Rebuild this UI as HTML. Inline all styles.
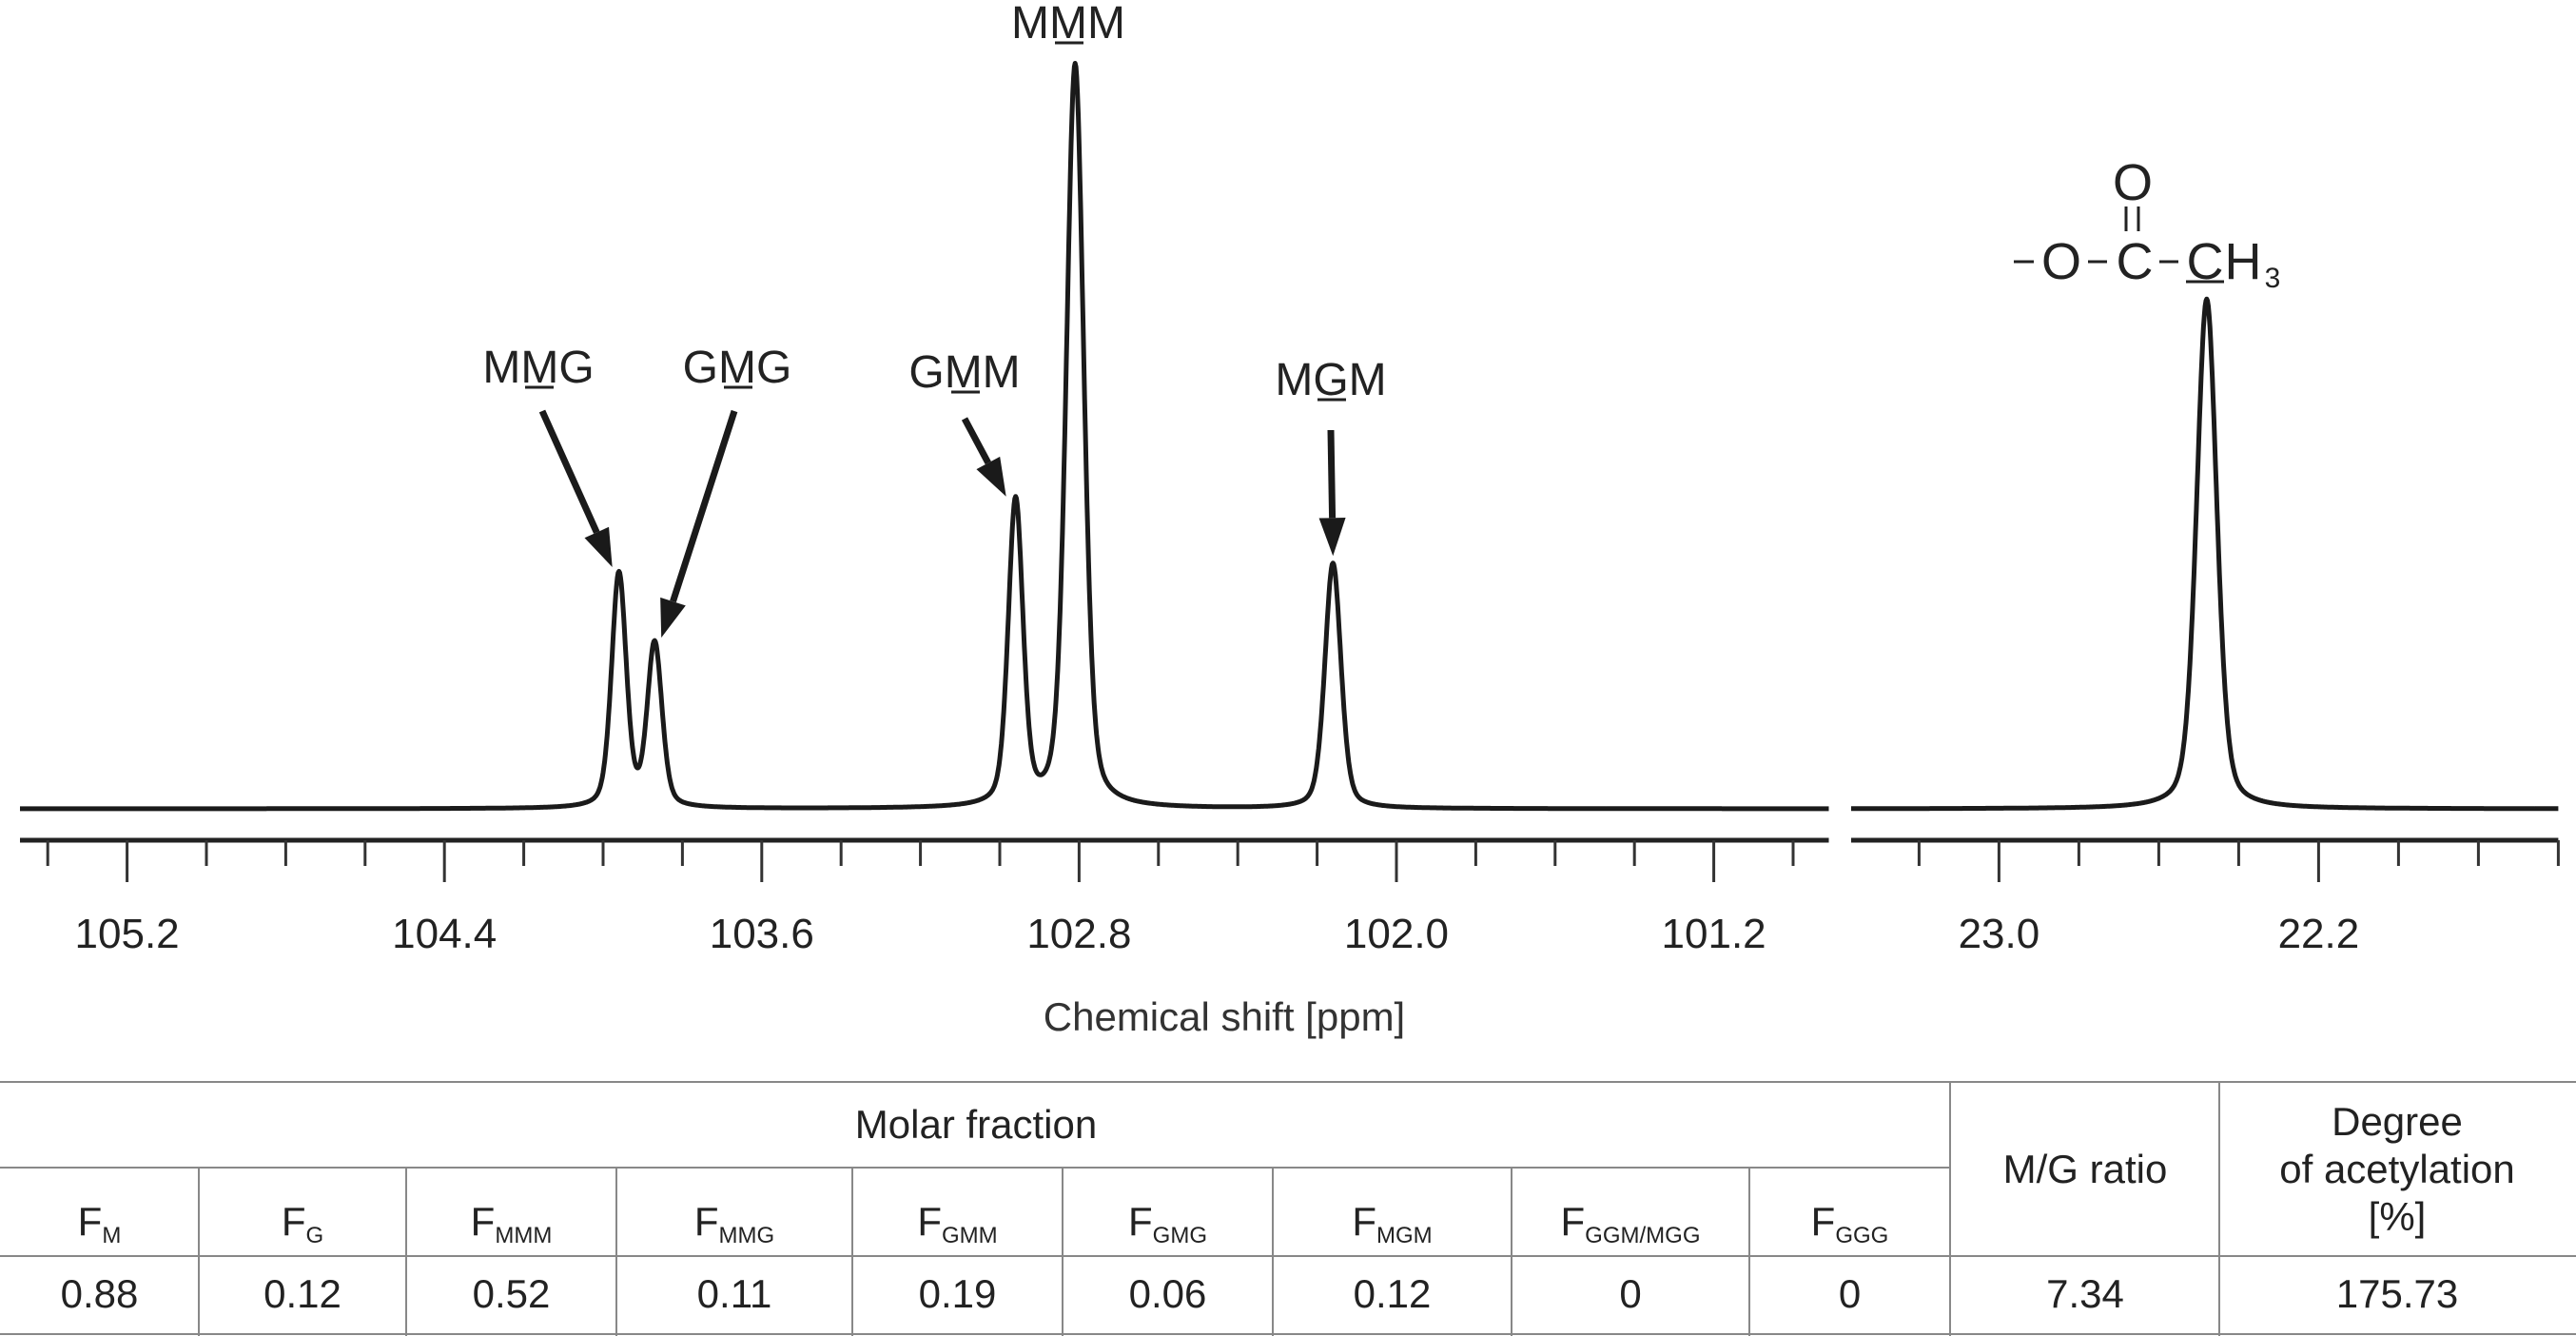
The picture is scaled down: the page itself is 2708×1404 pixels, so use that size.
<!DOCTYPE html>
<html><head><meta charset="utf-8"><style>
html,body{margin:0;padding:0;background:#fff;}
svg{display:block;font-family:"Liberation Sans",sans-serif;}
</style></head><body>
<svg id="chart" width="2708" height="1404" viewBox="0 0 2708 1404" xmlns="http://www.w3.org/2000/svg">
<g id="spec"></g>
<g id="axes"></g>
<g id="labels"></g>
<g id="table"></g>
</svg>
<script>
// ---- data ----
const peakNames = ["MMG","GMG","GMM","MMM","MGM"];
const peakPpm = [103.96, 103.87, 102.96, 102.81, 102.16];
const peakHeight = [31.5, 22, 41, 100, 33];
const peakWidth = [0.022, 0.022, 0.022, 0.026, 0.024];
const acetylPpm = [22.48];
const acetylHeight = [68.6];
const acetylWidth = [0.03];
const leftTicks = [105.2, 104.4, 103.6, 102.8, 102.0, 101.2];
const rightTicks = [23.0, 22.2];
const tableHeaders = ["M","G","MMM","MMG","GMM","GMG","MGM","GGM/MGG","GGG"];
const tableValues = ["0.88","0.12","0.52","0.11","0.19","0.06","0.12","0","0"];
const mgRatio = ["7.34"];
const acetylation = ["175.73"];

const NS="http://www.w3.org/2000/svg";
function mk(tag,attrs,parent,name){const e=document.createElementNS(NS,tag);for(const k in attrs)e.setAttribute(k,attrs[k]);


parent.appendChild(e);return e;}

// axis functions
const L0=105.47,L1=100.91, LX0=21, PX=417;
const xL=p=>LX0+(L0-p)*PX;
const R0=23.37,R1=21.6, RX0=1946, PXR=420;
const xR=p=>RX0+(R0-p)*PXR;
const yI=v=>850-v*7.81;

function spectrumPath(a,b,xf,pp,hh,ww){
  let d="";
  for(let p=a;p>=b;p-=0.002){
    let s=0;for(let i=0;i<pp.length;i++){const u=(p-pp[i])/ww[i];s+=hh[i]*(0.35/(1+u*u)+0.65*Math.exp(-0.693*u*u));}
    d+=(d?"L":"M")+xf(p).toFixed(1)+","+yI(s).toFixed(1);
  }
  return d;
}
const spec=document.getElementById('spec');
mk('path',{d:spectrumPath(L0,L1,xL,peakPpm,peakHeight,peakWidth),fill:'none',stroke:'#1a1a1a','stroke-width':5,'stroke-linejoin':'round'},spec,'spectrum-left');
mk('path',{d:spectrumPath(R0,R1,xR,acetylPpm,acetylHeight,acetylWidth),fill:'none',stroke:'#1a1a1a','stroke-width':5,'stroke-linejoin':'round'},spec,'spectrum-right');

// axes
const ax=document.getElementById('axes');
mk('line',{x1:xL(L0),x2:xL(L1),y1:883,y2:883,stroke:'#222','stroke-width':5},ax,'axis-line-left');
mk('line',{x1:xR(R0),x2:xR(R1),y1:883,y2:883,stroke:'#222','stroke-width':5},ax,'axis-line-right');
function ticks(a,b,xf,major){
  for(let k=Math.round(a*5);k>=Math.round(b*5);k--){
    const p=k/5; if(p>a||p<b) continue;
    const isMaj=major.some(m=>Math.abs(m-p)<1e-6);
    mk('line',{x1:xf(p),x2:xf(p),y1:883,y2:isMaj?927:910,stroke:'#333','stroke-width':3},ax,'tick');
  }
  major.forEach(m=>{const t=mk('text',{x:xf(m),y:996,'font-size':44,'text-anchor':'middle',fill:'#222'},ax,'tick-label');t.textContent=m.toFixed(1);});
}
ticks(L0,L1,xL,leftTicks);
ticks(R0,R1,xR,rightTicks);
const xt=mk('text',{x:1287,y:1083,'font-size':42,'text-anchor':'middle',fill:'#333'},ax,'x-axis-title');
xt.textContent="Chemical shift [ppm]";

// peak labels & arrows
const lb=document.getElementById('labels');
const labelPos=[[566,402],[775,402],[1014,407],[1123,40],[1399,415]];
peakNames.forEach((n,i)=>{
  const t=mk('text',{x:labelPos[i][0],y:labelPos[i][1],'font-size':48,'text-anchor':'middle',fill:'#222'},lb,'peak-label-'+n.toLowerCase());
  const a=document.createElementNS(NS,'tspan');a.textContent=n[0];t.appendChild(a);
  const b=document.createElementNS(NS,'tspan');b.textContent=n[1];t.appendChild(b);
  const c=document.createElementNS(NS,'tspan');c.textContent=n[2];t.appendChild(c);
  mk('line',{x1:labelPos[i][0]-14,x2:labelPos[i][0]+16,y1:labelPos[i][1]+5,y2:labelPos[i][1]+5,stroke:'#222','stroke-width':3},lb,'label-underline');
});
function arrow(x1,y1,i,name){
  const x2=xL(peakPpm[i])-(i===1?-7:i===0?7:i===2?10:0), y2=yI(peakHeight[i])-8;
  const dx=x2-x1,dy=y2-y1,len=Math.hypot(dx,dy),ux=dx/len,uy=dy/len;
  const bx=x2-ux*40,by=y2-uy*40;
  mk('line',{x1:x1,y1:y1,x2:bx,y2:by,stroke:'#1a1a1a','stroke-width':7},lb,name+'-shaft');
  mk('polygon',{points:`${x2},${y2} ${bx-uy*14},${by+ux*14} ${bx+uy*14},${by-ux*14}`,fill:'#1a1a1a'},lb,name+'-head');
}
arrow(570,432,0,'arrow-mmg');
arrow(772,432,1,'arrow-gmg');
arrow(1014,440,2,'arrow-gmm');
arrow(1399,452,4,'arrow-mgm');
// acetyl structure
const ac=mk('g',{},lb,'acetyl-structure');
const o=mk('text',{x:2242,y:210,'font-size':54,'text-anchor':'middle',fill:'#222'},ac,'carbonyl-oxygen');o.textContent="O";
mk('line',{x1:2235,x2:2235,y1:217,y2:243,stroke:'#222','stroke-width':3},ac,'double-bond');
mk('line',{x1:2248,x2:2248,y1:217,y2:243,stroke:'#222','stroke-width':3},ac,'double-bond');
[[2117,2138],[2195,2215],[2270,2290]].forEach(s=>mk('line',{x1:s[0],x2:s[1],y1:275,y2:275,stroke:'#222','stroke-width':3},ac,'single-bond'));
[["O",2167],["C",2244],["C",2318],["H",2358]].forEach(a=>{const t=mk('text',{x:a[1],y:293,'font-size':54,'text-anchor':'middle',fill:'#222'},ac,'atom');t.textContent=a[0];});
const s3=mk('text',{x:2389,y:302,'font-size':30,'text-anchor':'middle',fill:'#222'},ac,'subscript-3');s3.textContent="3";
mk('line',{x1:2298,x2:2338,y1:296,y2:296,stroke:'#222','stroke-width':3},ac,'acetyl-underline');

// table
const tb=document.getElementById('table');
const line=(x1,y1,x2,y2,n)=>mk('line',{x1,y1,x2,y2,stroke:'#888','stroke-width':2},tb,n);
line(0,1137,2708,1137,'table-top-border');
line(0,1227,2050,1227,'header-divider');
line(0,1320,2708,1320,'row-divider');
line(0,1402,2708,1402,'table-bottom-border');
line(2050,1137,2050,1404,'col-divider');
line(2333,1137,2333,1404,'col-divider');
const colX=[0,209,427,648,896,1117,1338,1589,1839,2050];
for(let i=1;i<colX.length-1;i++) line(colX[i],1227,colX[i],1404,'col-divider');
const txt=(x,y,s,n,fs)=>{const t=mk('text',{x,y,'font-size':fs||42,'text-anchor':'middle',fill:'#222'},tb,n);t.textContent=s;return t;};
txt(1026,1196,"Molar fraction",'header-molar-fraction');
txt(2192,1243,"M/G ratio",'header-mg-ratio');
txt(2520,1193,"Degree",'header-degree');
txt(2520,1243,"of acetylation",'header-degree');
txt(2520,1293,"[%]",'header-degree');
tableHeaders.forEach((h,i)=>{
  const cx=(colX[i]+colX[i+1])/2;
  const t=mk('text',{x:cx,y:1298,'font-size':42,'text-anchor':'middle',fill:'#222'},tb,'header-f-'+h.toLowerCase());
  const a=document.createElementNS(NS,'tspan');a.textContent="F";t.appendChild(a);
  const b=document.createElementNS(NS,'tspan');b.setAttribute('font-size','24');b.setAttribute('dy','8');b.textContent=h;t.appendChild(b);
  txt(cx,1374,tableValues[i],'value-f-'+h.toLowerCase());
});
txt(2192,1374,mgRatio[0],'value-mg-ratio');
txt(2520,1374,acetylation[0],'value-acetylation');
</script>
</body></html>
